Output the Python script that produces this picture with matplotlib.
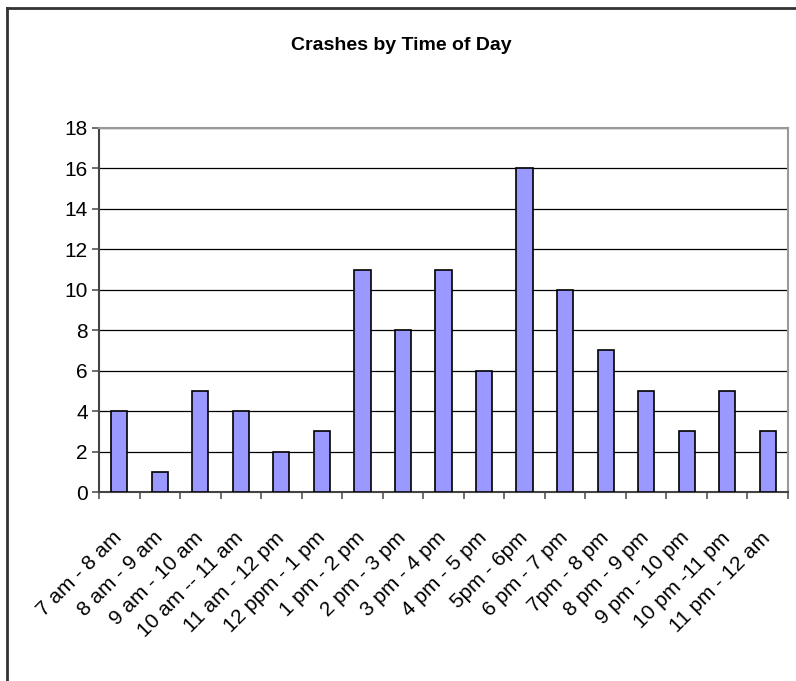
import numpy as np
import matplotlib
matplotlib.use("Agg")
import matplotlib.pyplot as plt
import matplotlib.transforms as mtransforms
from matplotlib.lines import Line2D

plt.rcParams['font.family'] = ['Liberation Sans', 'DejaVu Sans']

# data
time_slots = ["7 am - 8 am", "8 am - 9 am", "9 am - 10 am", "10 am -- 11 am",
              "11 am - 12 pm", "12 ppm - 1 pm", "1 pm - 2 pm", "2 pm - 3 pm",
              "3 pm - 4 pm", "4 pm - 5 pm", "5pm - 6pm", "6 pm - 7 pm",
              "7pm - 8 pm", "8 pm - 9 pm", "9 pm - 10 pm", "10 pm -11 pm",
              "11 pm - 12 am"]
crashes = [4, 1, 5, 4, 2, 3, 11, 8, 11, 6, 16, 10, 7, 5, 3, 5, 3]
y_ticks = [0, 2, 4, 6, 8, 10, 12, 14, 16, 18]

fig = plt.figure(figsize=(7.96, 6.81), dpi=100)
ax = fig.add_axes([99/796, 1 - 492/681, (788 - 99)/796, (492 - 128)/681])

x = np.arange(len(time_slots))
ax.bar(x, crashes, width=0.4, color="#9999FF", edgecolor="black", linewidth=1.2, zorder=3)

ax.set_xlim(-0.5, len(time_slots) - 0.5)
ax.set_ylim(0, 18)
ax.set_yticks(y_ticks)
ax.yaxis.grid(True, color="black", linewidth=0.9, zorder=0)

ax.set_xticks(x)
ax.set_xticklabels(time_slots, rotation=45, ha="right", rotation_mode="anchor", fontsize=15)
ax.set_xticks(np.arange(-0.5, len(time_slots)), minor=True)
ax.tick_params(axis="x", which="major", length=0, pad=26)
ax.tick_params(axis="x", which="minor", length=5, width=1.2, color="#555555")
ax.tick_params(axis="y", length=5, width=1.2, color="#555555", labelsize=15, pad=3)

# nudge the slanted labels a little to the left
shift = mtransforms.ScaledTranslation(-7/100, 0, fig.dpi_scale_trans)
for lbl in ax.get_xticklabels():
    lbl.set_transform(lbl.get_transform() + shift)

for side in ["left", "bottom"]:
    ax.spines[side].set_color("#444444")
    ax.spines[side].set_linewidth(1.5)
for side in ["top", "right"]:
    ax.spines[side].set_color("#999999")
    ax.spines[side].set_linewidth(1.5)

fig.text(401/796, 1 - 45/681, "Crashes by Time of Day", ha="center", va="center",
         fontsize=14, fontweight="bold")

# outer chart border (left and top edges)
fig.add_artist(Line2D([7.5/796, 7.5/796], [0, 1 - 7.5/681], color="#333333", linewidth=2))
fig.add_artist(Line2D([7.5/796, 1], [1 - 7.5/681, 1 - 7.5/681], color="#333333", linewidth=2))

fig.savefig("out.png", dpi=100)
